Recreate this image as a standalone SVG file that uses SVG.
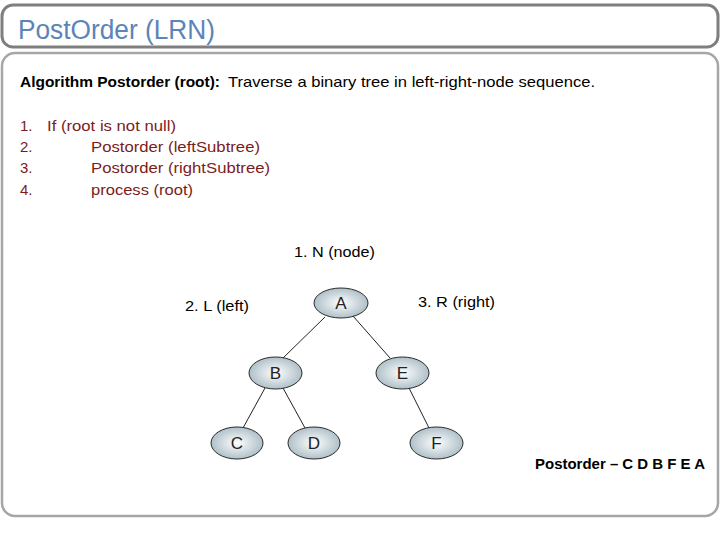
<svg xmlns="http://www.w3.org/2000/svg" width="720" height="540" viewBox="0 0 720 540">
<defs>
<radialGradient id="g" cx="50%" cy="50%" r="55%">
<stop offset="0" stop-color="#ffffff"/>
<stop offset="1" stop-color="#a7bac3"/>
</radialGradient>
<style>
.t{font-family:"Liberation Sans",Arial,sans-serif;font-size:15px;fill:#000}
.r{font-family:"Liberation Sans",Arial,sans-serif;font-size:15px;fill:#7b1c1c}
.n{fill:url(#g);stroke:#2b2b2b;stroke-width:1}
.nl{font-family:"Liberation Sans",Arial,sans-serif;font-size:17px;fill:#222;text-anchor:middle}
.e{stroke:#222;stroke-width:1;fill:none}
</style>
</defs>
<rect x="0" y="0" width="720" height="540" fill="#fff"/>
<rect id="titlebox" x="2" y="5" width="716" height="42" rx="11" fill="#fff" stroke="#7f7f7f" stroke-width="3"/>
<text x="18" y="39" font-family="Liberation Sans,Arial,sans-serif" font-size="27" fill="#5b84b8" textLength="197" lengthAdjust="spacingAndGlyphs">PostOrder (LRN)</text>
<rect id="bodybox" x="2" y="53" width="716" height="463" rx="13" fill="#fff" stroke="#a6a6a6" stroke-width="2.5"/>
<text class="t" x="20" y="87"><tspan font-weight="bold" textLength="200" lengthAdjust="spacingAndGlyphs">Algorithm Postorder (root):</tspan><tspan x="228" textLength="367" lengthAdjust="spacingAndGlyphs">Traverse a binary tree in left-right-node sequence.</tspan></text>
<text class="r" x="20" y="131">1.</text>
<text class="r" x="47" y="131" textLength="129" lengthAdjust="spacingAndGlyphs">If (root is not null)</text>
<text class="r" x="20" y="152">2.</text>
<text class="r" x="91" y="152" textLength="169" lengthAdjust="spacingAndGlyphs">Postorder (leftSubtree)</text>
<text class="r" x="20" y="173">3.</text>
<text class="r" x="91" y="173" textLength="179" lengthAdjust="spacingAndGlyphs">Postorder (rightSubtree)</text>
<text class="r" x="20" y="195">4.</text>
<text class="r" x="91" y="195" textLength="102" lengthAdjust="spacingAndGlyphs">process (root)</text>
<text class="t" x="294" y="257" textLength="81" lengthAdjust="spacingAndGlyphs">1. N (node)</text>
<text class="t" x="185" y="311" textLength="64" lengthAdjust="spacingAndGlyphs">2. L (left)</text>
<text class="t" x="418" y="307" textLength="77" lengthAdjust="spacingAndGlyphs">3. R (right)</text>
<g id="connectors">
<line class="e" x1="325" y1="317" x2="283" y2="358"/>
<line class="e" x1="353" y1="316" x2="390" y2="358"/>
<line class="e" x1="265" y1="388" x2="243" y2="428"/>
<line class="e" x1="283" y1="388" x2="305" y2="428"/>
<line class="e" x1="409" y1="388" x2="429" y2="428"/>
</g>
<g id="nodeA"><ellipse class="n" cx="341" cy="303" rx="27" ry="15"/><text class="nl" x="341" y="309">A</text></g>
<g id="nodeB"><ellipse class="n" cx="275.5" cy="373" rx="26.5" ry="16"/><text class="nl" x="275.5" y="379">B</text></g>
<g id="nodeE"><ellipse class="n" cx="402.5" cy="373" rx="26.5" ry="16"/><text class="nl" x="402.5" y="379">E</text></g>
<g id="nodeC"><ellipse class="n" cx="237" cy="443" rx="26" ry="16"/><text class="nl" x="237" y="449">C</text></g>
<g id="nodeD"><ellipse class="n" cx="314" cy="443" rx="26" ry="16"/><text class="nl" x="314" y="449">D</text></g>
<g id="nodeF"><ellipse class="n" cx="436.5" cy="443" rx="26.5" ry="16"/><text class="nl" x="436.5" y="449">F</text></g>
<text class="t" x="535" y="469" font-weight="bold" textLength="170" lengthAdjust="spacingAndGlyphs">Postorder – C D B F E A</text>
</svg>
